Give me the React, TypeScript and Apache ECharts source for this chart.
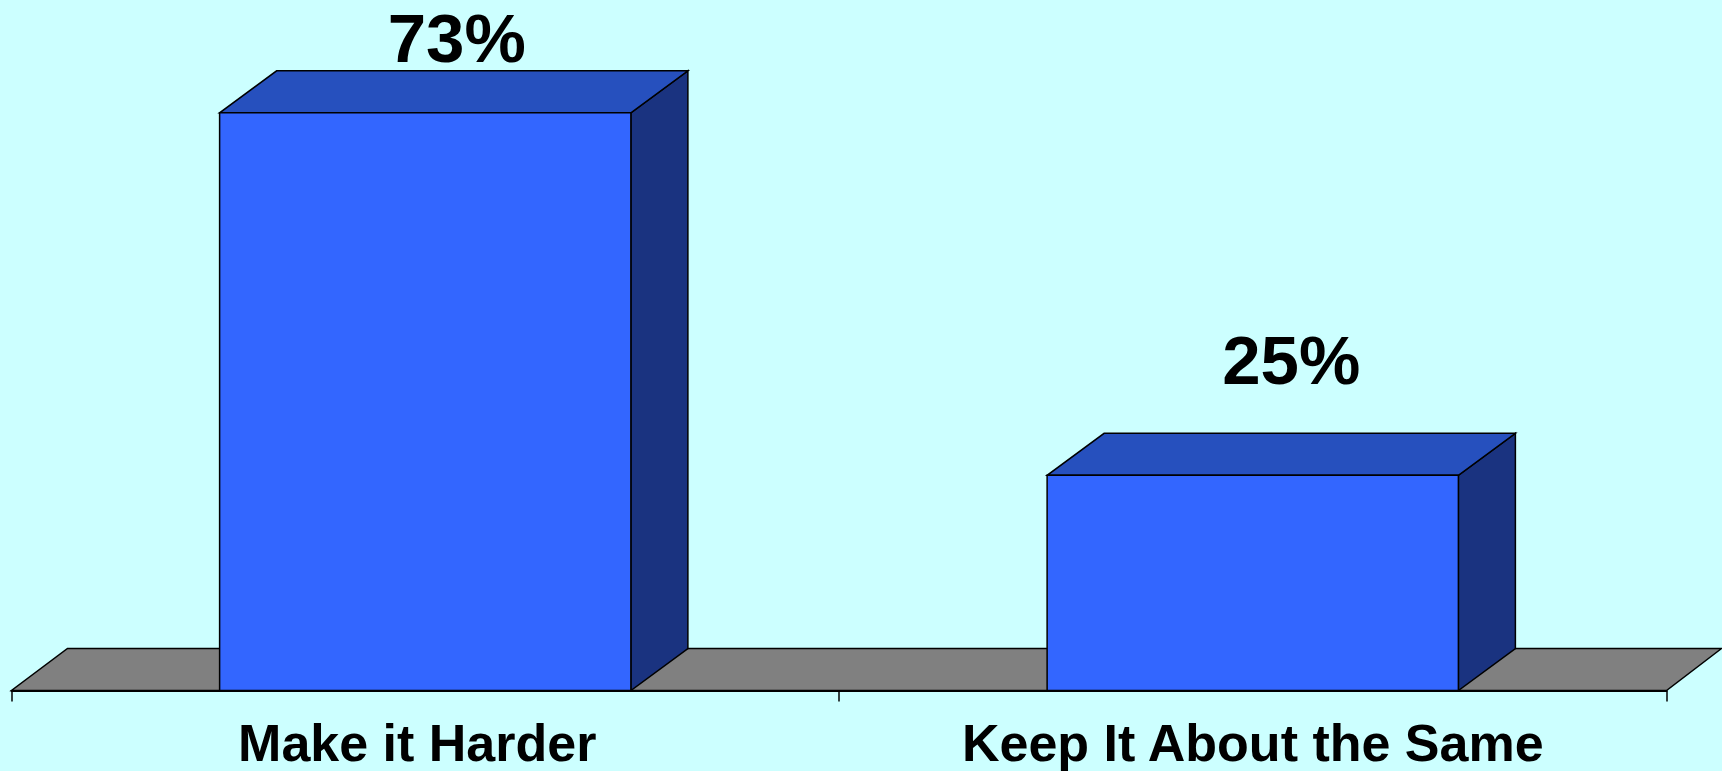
import React, { useEffect, useRef } from "react";
import * as echarts from "echarts";

const categories = ["Make it Harder", "Keep It About the Same"];
const values = [73, 25];
const valueLabels = ["73%", "25%"];

const Y_MIN = -3.5;
const Y_MAX = 80;
const DX = 57;
const DY = 42;
const FONT = '"Liberation Sans", Arial, Helvetica, sans-serif';

export default function App() {
  const ref = useRef<HTMLDivElement>(null);
  useEffect(() => {
    if (!ref.current) return;
    const chart = echarts.init(ref.current, undefined, { renderer: "svg" });
    const labelStyle = {
      color: "#000",
      fontSize: 52,
      fontWeight: "bold",
      fontFamily: FONT,
    };
    const option: any = {
      animation: false,
      backgroundColor: "#CCFFFF",
      grid: { left: 11.5, right: 55.5, top: 60, bottom: 80.5, containLabel: false },
      xAxis: {
        type: "category",
        data: categories,
        boundaryGap: true,
        axisLine: { show: true, onZero: false, lineStyle: { color: "#000", width: 2 } },
        axisTick: { show: true, length: 11, lineStyle: { color: "#000", width: 1.5 } },
        axisLabel: {
          ...labelStyle,
          margin: 26,
          interval: 0,
          formatter: (v: string, i: number) => (i === 0 ? `{l|${v}}` : `{r|${v}}`),
          rich: {
            l: { ...labelStyle, padding: [0, 16, 0, 0] },
            r: { ...labelStyle },
          },
        },
        z: 10,
      },
      yAxis: {
        type: "value",
        min: Y_MIN,
        max: Y_MAX,
        show: false,
        splitLine: { show: false },
      },
      series: [
        {
          type: "custom",
          data: [[0, Y_MIN]],
          clip: false,
          z: 1,
          renderItem: (params: any, api: any) => {
            const cs = params.coordSys;
            const yb = cs.y + cs.height;
            const xl = cs.x;
            const xr = cs.x + cs.width;
            return {
              type: "polygon",
              shape: {
                points: [
                  [xl, yb],
                  [xr, yb],
                  [xr + DX - 2, yb - DY],
                  [xl + DX - 1, yb - DY],
                ],
              },
              style: { fill: "#808080", stroke: "#000", lineWidth: 1.5 },
            };
          },
        },
        {
          type: "custom",
          data: values.map((v, i) => [i, v]),
          clip: false,
          z: 2,
          renderItem: (params: any, api: any) => {
            const cat = api.value(0);
            const val = api.value(1);
            const top = api.coord([cat, val]);
            const base = api.coord([cat, Y_MIN]);
            const w = api.size([1, 0])[0] * 0.497;
            const x0 = top[0] - w / 2;
            const x1 = top[0] + w / 2;
            const yt = top[1];
            const yb = base[1];
            const labelY = Math.max(yt - DY - 73, 38);
            const stroke = { stroke: "#000", lineWidth: 1.5 };
            return {
              type: "group",
              children: [
                {
                  type: "polygon",
                  shape: {
                    points: [
                      [x1, yt],
                      [x1 + DX, yt - DY],
                      [x1 + DX, yb - DY],
                      [x1, yb],
                    ],
                  },
                  style: { fill: "#1A3380", ...stroke },
                },
                {
                  type: "polygon",
                  shape: {
                    points: [
                      [x0, yt],
                      [x1, yt],
                      [x1 + DX, yt - DY],
                      [x0 + DX, yt - DY],
                    ],
                  },
                  style: { fill: "#2650BE", ...stroke },
                },
                {
                  type: "rect",
                  shape: { x: x0, y: yt, width: w, height: yb - yt },
                  style: { fill: "#3366FF", ...stroke },
                },
                {
                  type: "text",
                  x: (x0 + x1) / 2 + DX / 2 + (cat === 1 ? 10 : 3),
                  y: labelY,
                  style: {
                    text: valueLabels[params.dataIndex],
                    fill: "#000",
                    fontSize: 69,
                    fontWeight: "bold",
                    fontFamily: FONT,
                    align: "center",
                    verticalAlign: "middle",
                  },
                },
              ],
            };
          },
        },
      ],
    };
    chart.setOption(option);
    return () => chart.dispose();
  }, []);
  return (
    <div
      ref={ref}
      style={{ position: "absolute", left: 0, top: 0, width: 1722, height: 771 }}
    />
  );
}
